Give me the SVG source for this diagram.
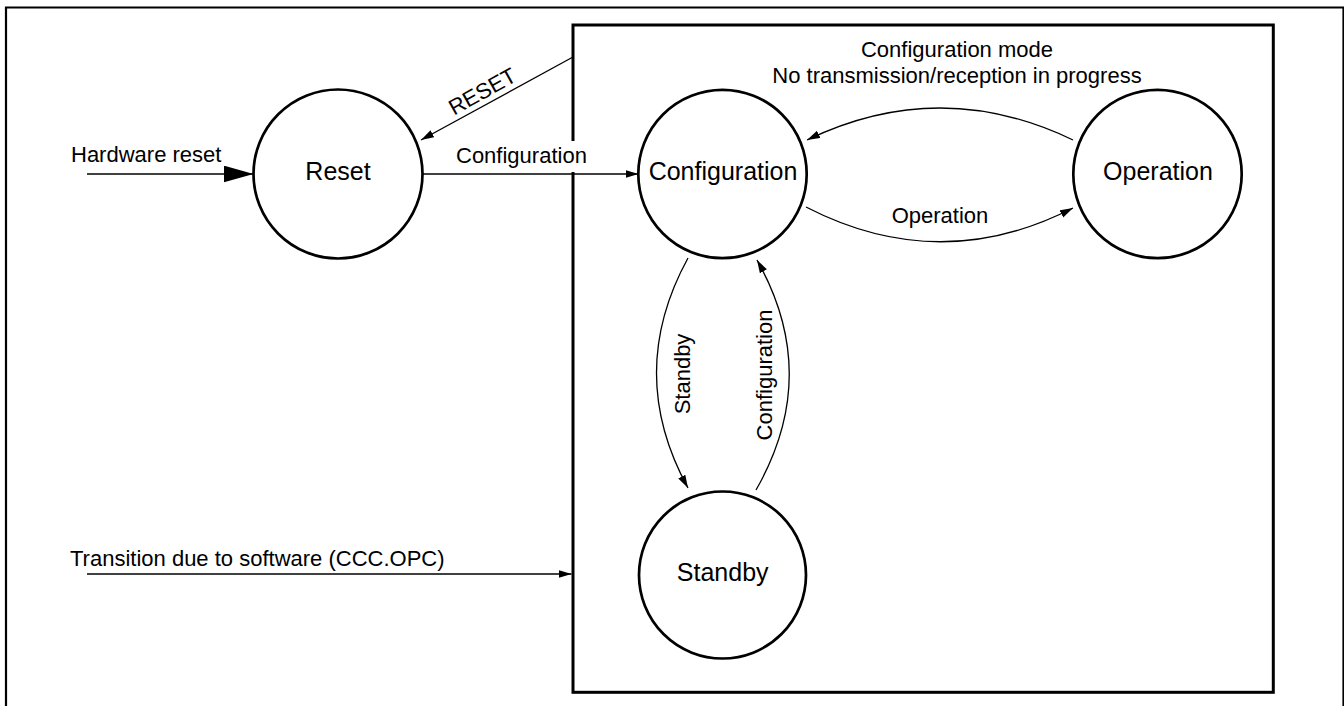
<svg xmlns="http://www.w3.org/2000/svg" width="1344" height="706" viewBox="0 0 1344 706">
<style>
text{font-family:"Liberation Sans",Arial,Helvetica,sans-serif;fill:#000}
.lbl{font-size:22px}
.node{font-size:25px;text-anchor:middle}
.state{fill:#fff;stroke:#000;stroke-width:2.7}
.conn{fill:none;stroke:#000;stroke-width:1.3}
</style>
<defs>
<marker id="arr" markerUnits="userSpaceOnUse" markerWidth="14" markerHeight="9" refX="13" refY="4" orient="auto"><path d="M0,0 L13,4 L0,8 z" fill="#000"/></marker>
<marker id="big" markerUnits="userSpaceOnUse" markerWidth="31" markerHeight="18" refX="30" refY="8.5" orient="auto"><path d="M0,0 L30,8.5 L0,17 z" fill="#000"/></marker>
</defs>
<rect width="1344" height="706" fill="#fff"/>
<path d="M6,712 V7.5 H1343.5 V712" fill="none" stroke="#000" stroke-width="2.2"/>
<rect id="mode-box" x="573" y="25" width="700.3" height="667.3" fill="none" stroke="#000" stroke-width="3"/>
<g id="connectors">
<line class="conn" x1="87" y1="174" x2="253.5" y2="174" marker-end="url(#big)"/>
<line class="conn" x1="573" y1="57" x2="421" y2="140" marker-end="url(#arr)"/>
<line class="conn" x1="422.5" y1="174" x2="638.5" y2="174" marker-end="url(#arr)"/>
<path class="conn" d="M1073,140 Q940,76 807,140" marker-end="url(#arr)"/>
<path class="conn" d="M806,207 Q940,276 1073,208" marker-end="url(#arr)"/>
<path class="conn" d="M688,258 Q625,373 688,488" marker-end="url(#arr)"/>
<path class="conn" d="M756,490 Q822,375 757,260" marker-end="url(#arr)"/>
<line class="conn" x1="87" y1="574" x2="571.5" y2="574" marker-end="url(#arr)"/>
<rect x="452" y="141" width="140" height="31" fill="#fff"/>
<text class="lbl" x="456" y="162.7">Configuration</text>
<text class="lbl" x="71" y="162">Hardware reset</text>
<text class="lbl" text-anchor="middle" transform="translate(486,98) rotate(-29)">RESET</text>
<text class="lbl" x="957" y="57" text-anchor="middle">Configuration mode</text>
<text class="lbl" x="957" y="83" text-anchor="middle">No transmission/reception in progress</text>
<text class="lbl" x="940" y="223" text-anchor="middle">Operation</text>
<text class="lbl" text-anchor="middle" transform="translate(690,374) rotate(-90)">Standby</text>
<text class="lbl" text-anchor="middle" transform="translate(772,375) rotate(-90)">Configuration</text>
<text class="lbl" x="70" y="566">Transition due to software (CCC.OPC)</text>
</g>
<g id="reset"><circle class="state" cx="338" cy="174" r="84.5"/><text class="node" x="338" y="180">Reset</text></g>
<g id="configuration"><circle class="state" cx="722.5" cy="174" r="84.2"/><text class="node" x="723" y="180">Configuration</text></g>
<g id="operation"><circle class="state" cx="1157.5" cy="174" r="84.2"/><text class="node" x="1158" y="180">Operation</text></g>
<g id="standby"><circle class="state" cx="722.5" cy="575" r="83.5"/><text class="node" x="722.7" y="581">Standby</text></g>
</svg>
